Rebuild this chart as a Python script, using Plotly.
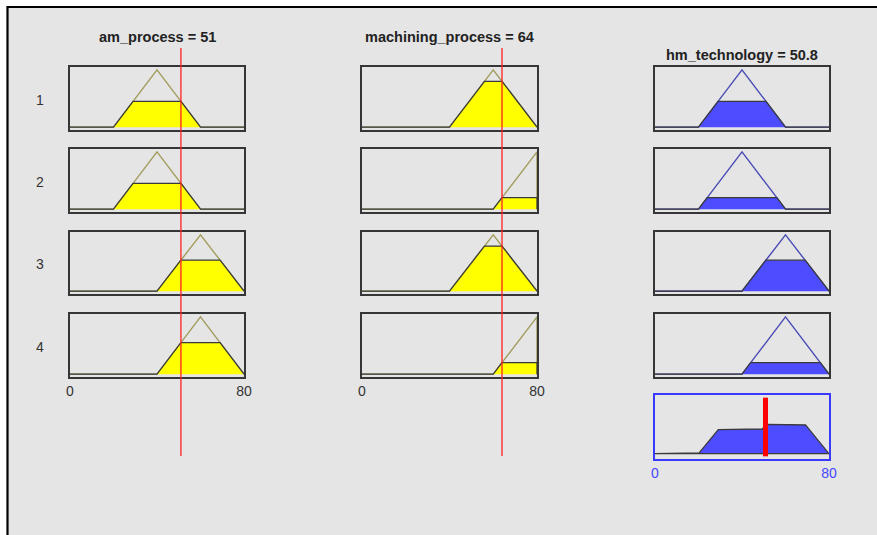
import numpy as np
import plotly.graph_objects as go

# ---- fuzzy system data -------------------------------------------------
input_names = ["am_process", "machining_process"]
input_values = [51, 64]
output_name = "hm_technology"
output_value = 50.8
universe = [0, 80]
tick_labels = ["0", "80"]
rule_labels = ["1", "2", "3", "4"]

# triangular membership parameters [a, b, c] used by each rule
am_process_mfs = [[20, 40, 60], [20, 40, 60], [40, 60, 80], [40, 60, 80]]
machining_process_mfs = [[40, 60, 80], [60, 80, 80], [40, 60, 80], [60, 80, 80]]
hm_technology_mfs = [[20, 40, 60], [20, 40, 60], [40, 60, 80], [40, 60, 80]]

# ---- canvas geometry (pixels) -------------------------------------------
W, H = 877, 535
cols_px = [(70, 244), (362, 537), (655, 829)]
rows_px = [(67, 130), (149, 212), (232, 294), (314, 377)]
agg_px = (395, 459)

BG = "#e5e5e5"
FRAME = "#363636"
YELLOW = "#ffff00"
OLIVE = "#a29c5c"
BLUE_FILL = "#4d4dff"
BLUE_LINE = "#4a4ab6"
BLUE_TEXT = "#4646ff"
EDGE = "#3a3a3a"
FONT = "Liberation Sans, Arial, Helvetica, sans-serif"


def px(x):
    return x / W


def py(y):
    return 1 - y / H


def trimf(x, p):
    a, b, c = p
    x = np.asarray(x, dtype=float)
    left = np.where(b > a, (x - a) / max(b - a, 1e-12), (x >= b).astype(float))
    right = np.where(c > b, (c - x) / max(c - b, 1e-12), (x <= b).astype(float))
    return np.clip(np.minimum(left, right), 0, 1)


def mf_outline(p):
    a, b, c = p
    return [universe[0], a, b, c, universe[1]], [0, 0, 1, 0, 0]


def clipped_outline(p, w):
    a, b, c = p
    xs = [universe[0], a, a + w * (b - a), c - w * (c - b), c, universe[1]]
    ys = [0, 0, w, w, 0, 0]
    return xs, ys


# rule strengths: AND via min of the input memberships
mu_am = [float(trimf(input_values[0], p)) for p in am_process_mfs]
mu_mach = [float(trimf(input_values[1], p)) for p in machining_process_mfs]
strengths = [min(a, b) for a, b in zip(mu_am, mu_mach)]

fig = go.Figure()
layout_axes = {}
ax_id = 0


def new_axes(xr, yr, yrange, frame_color=FRAME, ticks=False, tick_color="#333"):
    global ax_id
    ax_id += 1
    sfx = "" if ax_id == 1 else str(ax_id)
    layout_axes["xaxis" + sfx] = dict(
        domain=[px(xr[0]), px(xr[1])], range=universe, anchor="y" + sfx,
        showgrid=False, zeroline=False, showline=True, mirror=True,
        linecolor=frame_color, linewidth=1.5, automargin=False,
        showticklabels=ticks, tickvals=universe, ticktext=tick_labels,
        ticks="", tickfont=dict(family=FONT, size=14, color=tick_color),
        fixedrange=True,
    )
    layout_axes["yaxis" + sfx] = dict(
        domain=[py(yr[1]), py(yr[0])], range=yrange, anchor="x" + sfx,
        showgrid=False, zeroline=False, showline=True, mirror=True,
        linecolor=frame_color, linewidth=1.5, showticklabels=False,
        automargin=False, fixedrange=True,
    )
    return "x" + sfx, "y" + sfx


input_axes = [[], []]
mf_sets = [am_process_mfs, machining_process_mfs]
for r, rows in enumerate(rows_px):
    for ci in range(2):
        xa, ya = new_axes(cols_px[ci], rows, [-0.05, 1.05], ticks=(r == 3))
        input_axes[ci].append(xa)
        p = mf_sets[ci][r]
        mu = mu_am[r] if ci == 0 else mu_mach[r]
        ox, oy = mf_outline(p)
        fig.add_trace(go.Scatter(x=ox, y=oy, xaxis=xa, yaxis=ya, mode="lines",
                                 line=dict(color=OLIVE, width=1.4),
                                 hoverinfo="skip", showlegend=False))
        cx, cy = clipped_outline(p, mu)
        fig.add_trace(go.Scatter(x=cx, y=cy, xaxis=xa, yaxis=ya, mode="lines",
                                 fill="toself", fillcolor=YELLOW,
                                 line=dict(color=EDGE, width=1.3),
                                 hoverinfo="skip", showlegend=False))
    # consequent of this rule
    xa, ya = new_axes(cols_px[2], rows, [-0.05, 1.05])
    p = hm_technology_mfs[r]
    ox, oy = mf_outline(p)
    fig.add_trace(go.Scatter(x=ox, y=oy, xaxis=xa, yaxis=ya, mode="lines",
                             line=dict(color=BLUE_LINE, width=1.4),
                             hoverinfo="skip", showlegend=False))
    cx, cy = clipped_outline(p, strengths[r])
    fig.add_trace(go.Scatter(x=cx, y=cy, xaxis=xa, yaxis=ya, mode="lines",
                             fill="toself", fillcolor=BLUE_FILL,
                             line=dict(color=EDGE, width=1.3),
                             hoverinfo="skip", showlegend=False))

# aggregated output (max of clipped consequents)
xa_agg, ya_agg = new_axes(cols_px[2], agg_px, [-0.1, 1.1], frame_color="#3a3aff",
                          ticks=True, tick_color=BLUE_TEXT)
grid = np.linspace(universe[0], universe[1], 1601)
agg = np.max([np.minimum(trimf(grid, p), w) for p, w in zip(hm_technology_mfs, strengths)], axis=0)
fig.add_trace(go.Scatter(x=np.r_[grid, grid[-1], grid[0]], y=np.r_[agg, 0, 0],
                         xaxis=xa_agg, yaxis=ya_agg, mode="lines",
                         fill="toself", fillcolor=BLUE_FILL,
                         line=dict(color=EDGE, width=1.3),
                         hoverinfo="skip", showlegend=False))

shapes = [
    # figure panel with dark border on top/left
    dict(type="rect", xref="paper", yref="paper", x0=px(7.5), x1=1.1, y0=-0.1, y1=py(7),
         fillcolor=BG, line=dict(color="#000000", width=2.2), layer="below"),
]
# input value markers spanning all rule rows
for ci in range(2):
    shapes.append(dict(type="line", xref=input_axes[ci][0], yref="paper",
                       x0=input_values[ci], x1=input_values[ci],
                       y0=py(456), y1=py(48), line=dict(color="#ff2020", width=1.3)))
# defuzzified output marker
shapes.append(dict(type="line", xref=xa_agg, yref=ya_agg, x0=output_value, x1=output_value,
                   y0=-0.05, y1=1.05, line=dict(color="#ff0000", width=5)))

annotations = []
titles = [f"{input_names[0]} = {input_values[0]}",
          f"{input_names[1]} = {input_values[1]}",
          f"{output_name} = {output_value}"]
title_y = [36.5, 36.5, 54.5]
for ci in range(3):
    annotations.append(dict(text=f"<b>{titles[ci]}</b>", xref="paper", yref="paper",
                            x=px(sum(cols_px[ci]) / 2), y=py(title_y[ci]),
                            showarrow=False, xanchor="center", yanchor="middle",
                            font=dict(family=FONT, size=14.5, color="#222222")))
for r, lab in enumerate(rule_labels):
    annotations.append(dict(text=lab, xref="paper", yref="paper",
                            x=px(40), y=py(sum(rows_px[r]) / 2 + 1),
                            showarrow=False, xanchor="center", yanchor="middle",
                            font=dict(family=FONT, size=14, color="#333333")))

fig.update_layout(
    width=W, height=H, margin=dict(l=0, r=0, t=0, b=0),
    paper_bgcolor="#ffffff", plot_bgcolor="#ffffff",
    shapes=shapes, annotations=annotations, showlegend=False,
    **layout_axes,
)

fig.write_html("out.html", config={"displayModeBar": False})
